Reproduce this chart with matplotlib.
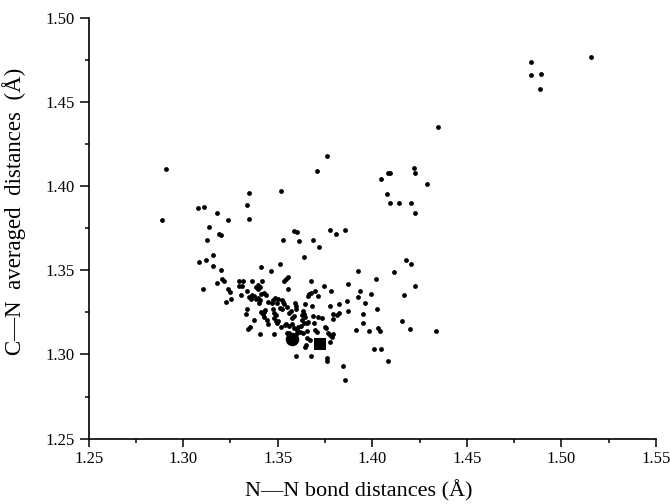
import matplotlib
matplotlib.use("Agg")
import matplotlib.pyplot as plt
from matplotlib.ticker import MultipleLocator

plt.rcParams['font.family'] = ['Liberation Serif', 'DejaVu Serif']

# N-N bond distance (x) and averaged C-N distance (y), in Angstrom
nn = [
    1.5155, 1.4838, 1.4838, 1.4892, 1.4890, 1.4346,
    1.2910, 1.2890, 1.3760, 1.3709, 1.3518, 1.3348, 1.3337, 1.3348,
    1.3078, 1.3108, 1.3178, 1.3239, 1.3137, 1.3189, 1.3198, 1.3128,
    1.3160, 1.3085, 1.3119, 1.3158, 1.3198, 1.3105,
    1.3586, 1.3602, 1.3611, 1.3530, 1.3688, 1.3720, 1.3641,
    1.3777, 1.3808, 1.3858, 1.3511, 1.3409, 1.3466,
    1.4047, 1.4083, 1.4094, 1.4219, 1.4228, 1.4289, 1.4076, 1.4096,
    1.4142, 1.4207, 1.4228, 1.4176, 1.4207, 1.4117, 1.4228, 1.4167,
    1.4155, 1.4198, 1.4337, 1.4008, 1.4047, 1.4081,
    1.3847, 1.3858, 1.3760, 1.3760, 1.3677, 1.3597,
    # dense cluster, left part
    1.3177, 1.3203, 1.3214, 1.3239, 1.3245, 1.3253, 1.3226,
    1.3293, 1.3316, 1.3366, 1.3415, 1.3544, 1.3552, 1.3535,
    1.3295, 1.3309, 1.3306, 1.3336,
    1.3387, 1.3397, 1.3406, 1.3394,
    1.3362, 1.3376, 1.3348, 1.3358, 1.3383,
    1.3411, 1.3429, 1.3436, 1.3397, 1.3408, 1.3403,
    1.3450, 1.3468, 1.3477, 1.3485, 1.3496, 1.3503, 1.3521, 1.3530,
    1.3535, 1.3547, 1.3593, 1.3595, 1.3595, 1.3556,
    1.3336, 1.3330, 1.3411, 1.3425, 1.3433, 1.3420, 1.3425,
    1.3477, 1.3482, 1.3493, 1.3482, 1.3512, 1.3521,
    1.3560, 1.3572, 1.3584, 1.3574,
    1.3376, 1.3351, 1.3344, 1.3441, 1.3450, 1.3489, 1.3500, 1.3496,
    1.3517, 1.3538, 1.3545, 1.3560, 1.3574, 1.3588, 1.3600, 1.3609,
    1.3404, 1.3482, 1.3549, 1.3561, 1.3600, 1.3620,
    # dense cluster, right part
    1.3674, 1.3743, 1.3784, 1.3874, 1.3923, 1.4022, 1.3935, 1.3992,
    1.3923, 1.3962, 1.3865, 1.3826, 1.3775, 1.3874,
    1.3794, 1.3812, 1.3826, 1.3794, 1.3953, 1.4024, 1.3953, 1.3914,
    1.3983, 1.4031, 1.4043,
    1.3660, 1.3667, 1.3674, 1.3696, 1.3713, 1.3646, 1.3680, 1.3636,
    1.3629, 1.3639, 1.3644, 1.3627, 1.3639, 1.3653, 1.3623,
    1.3685, 1.3715, 1.3733, 1.3662, 1.3692, 1.3754, 1.3750,
    1.3657, 1.3636, 1.3697, 1.3706, 1.3777, 1.3787, 1.3794, 1.3768,
    1.3653, 1.3671, 1.3650, 1.3644, 1.3777,
]
cn = [
    1.4768, 1.4739, 1.4658, 1.4667, 1.4576, 1.4349,
    1.4100, 1.3799, 1.4180, 1.4087, 1.3969, 1.3961, 1.3888, 1.3806,
    1.3868, 1.3878, 1.3838, 1.3799, 1.3757, 1.3715, 1.3707, 1.3680,
    1.3591, 1.3549, 1.3559, 1.3527, 1.3500, 1.3389,
    1.3733, 1.3725, 1.3676, 1.3680, 1.3680, 1.3638, 1.3579,
    1.3739, 1.3717, 1.3739, 1.3539, 1.3521, 1.3498,
    1.4040, 1.4080, 1.4080, 1.4110, 1.4080, 1.4010, 1.3951, 1.3897,
    1.3897, 1.3897, 1.3838, 1.3559, 1.3539, 1.3490, 1.3409, 1.3351,
    1.3200, 1.3149, 1.3139, 1.3030, 1.3030, 1.2961,
    1.2932, 1.2850, 1.2981, 1.2961, 1.2991, 1.2991,
    # dense cluster, left part
    1.3427, 1.3449, 1.3437, 1.3387, 1.3371, 1.3328, 1.3310,
    1.3439, 1.3439, 1.3439, 1.3439, 1.3449, 1.3462, 1.3437,
    1.3409, 1.3409, 1.3354, 1.3379,
    1.3403, 1.3413, 1.3399, 1.3391,
    1.3356, 1.3348, 1.3340, 1.3332, 1.3328,
    1.3358, 1.3367, 1.3354, 1.3338, 1.3324, 1.3304,
    1.3312, 1.3304, 1.3324, 1.3334, 1.3308, 1.3328, 1.3324, 1.3314,
    1.3298, 1.3284, 1.3304, 1.3288, 1.3272, 1.3389,
    1.3270, 1.3243, 1.3255, 1.3251, 1.3262, 1.3243, 1.3225,
    1.3272, 1.3249, 1.3233, 1.3217, 1.3278, 1.3268,
    1.3249, 1.3257, 1.3227, 1.3219,
    1.3203, 1.3166, 1.3150, 1.3205, 1.3181, 1.3197, 1.3201, 1.3189,
    1.3166, 1.3175, 1.3181, 1.3169, 1.3181, 1.3156, 1.3146, 1.3166,
    1.3122, 1.3122, 1.3126, 1.3126, 1.3126, 1.3136,
    # dense cluster, right part
    1.3439, 1.3409, 1.3379, 1.3419, 1.3496, 1.3449, 1.3379, 1.3359,
    1.3340, 1.3308, 1.3320, 1.3300, 1.3290, 1.3261,
    1.3241, 1.3233, 1.3245, 1.3209, 1.3241, 1.3270, 1.3189, 1.3146,
    1.3138, 1.3156, 1.3138,
    1.3350, 1.3358, 1.3367, 1.3379, 1.3350, 1.3300, 1.3290, 1.3261,
    1.3235, 1.3241, 1.3225, 1.3205, 1.3185, 1.3189, 1.3169,
    1.3229, 1.3225, 1.3215, 1.3195, 1.3185, 1.3156, 1.3162,
    1.3142, 1.3126, 1.3146, 1.3136, 1.3116, 1.3106, 1.3120, 1.3126,
    1.3096, 1.3086, 1.3057, 1.3043, 1.3077,
]

# two highlighted structures
circle_nn = [1.3576]
circle_cn = [1.3090]
square_nn = [1.3724]
square_cn = [1.3064]

fig = plt.figure(figsize=(6.7, 5.04), dpi=100)
ax = fig.add_axes([0.1324, 0.1296, 0.8464, 0.8353])

ax.scatter(nn, cn, s=12, c="black", linewidths=0)
ax.scatter(circle_nn, circle_cn, s=95, marker="o", c="black", linewidths=0)
ax.scatter(square_nn, square_cn, s=85, marker="s", c="black", linewidths=0)

ax.set_xlim(1.25, 1.55)
ax.set_ylim(1.25, 1.50)
ax.xaxis.set_major_locator(MultipleLocator(0.05))
ax.xaxis.set_minor_locator(MultipleLocator(0.025))
ax.yaxis.set_major_locator(MultipleLocator(0.05))
ax.yaxis.set_minor_locator(MultipleLocator(0.025))
ax.xaxis.set_major_formatter(plt.FormatStrFormatter("%.2f"))
ax.yaxis.set_major_formatter(plt.FormatStrFormatter("%.2f"))

for side in ["top", "right"]:
    ax.spines[side].set_visible(False)
for side in ["left", "bottom"]:
    ax.spines[side].set_linewidth(1.2)

ax.tick_params(which="major", direction="out", width=1.1, labelsize=12)
ax.tick_params(axis="x", which="major", length=5.5, pad=3.5)
ax.tick_params(axis="y", which="major", length=6.5, pad=3.5)
ax.tick_params(which="minor", direction="out", length=3, width=1.1)

ax.set_xlabel("N\u2014N bond distances (\u00c5)", fontsize=16, va="center")
ax.set_ylabel("C\u2014N  averaged  distances  (\u00c5)", fontsize=16.5)
ax.xaxis.set_label_coords(0.476, -0.124)
ax.yaxis.set_label_coords(-0.11, 0.54)

fig.savefig("out.png", dpi=100)
